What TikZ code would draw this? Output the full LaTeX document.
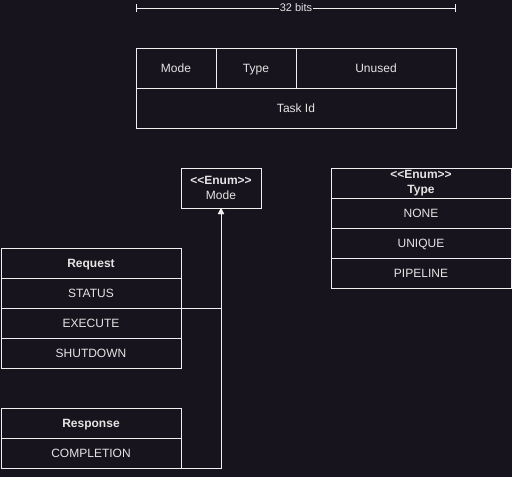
\documentclass[tikz,border=0pt]{standalone}
\usepackage{fontspec}
\setmainfont{Liberation Sans}[Ligatures=TeXOff]
\usepackage{tikz}
\usetikzlibrary{arrows.meta,positioning}

\definecolor{bgc}{HTML}{18141D}
\definecolor{linec}{HTML}{F0F0F0}
\definecolor{textc}{HTML}{E4E4E4}

\tikzset{
  box/.style={rectangle,draw=linec,fill=bgc,text=textc,inner sep=0pt,outer sep=0pt,
    minimum width=80pt,minimum height=40pt,align=center,font=\fontsize{12}{15}\selectfont},
  field/.style={box,text height=9pt,text depth=0.5pt},
  head/.style={field,minimum width=180pt,minimum height=30pt,font=\bfseries\fontsize{12}{14}\selectfont},
  item/.style={field,minimum width=180pt,minimum height=30pt},
  link/.style={draw=linec,-{Triangle[width=6pt,length=6pt]}}
}

\begin{document}
\begin{tikzpicture}[x=1pt,y=-1pt,node distance=0pt,line width=1pt]
\useasboundingbox[fill=bgc] (0,0) rectangle (512,477);

% width of the packet
\coordinate (bitl) at (136,8);
\coordinate (bitr) at (456,8);
\draw[linec,{Bar[width=8pt]}-{Bar[width=8pt]}] (bitl) -- (bitr);
\node (bits) [fill=bgc,text=textc,inner sep=1pt,text height=8pt,text depth=1pt,font=\fontsize{11}{13}\selectfont] at (296,8) {32 bits};

% packet layout
\node (mode) [field,anchor=north west] at (136,48) {Mode};
\node (type) [field,right=of mode] {Type};
\node (unused) [field,minimum width=160pt,right=of type] {Unused};
\node (taskid) [field,minimum width=320pt,below=of mode.south west,anchor=north west] {Task Id};

% enums
\node (menum) [box,anchor=north west] at (181,168) {\textbf{<<Enum>>}\\Mode};

\node (tenum) [box,minimum width=180pt,minimum height=30pt,anchor=north west,font=\bfseries\fontsize{12}{15}\selectfont] at (331,168) {<<Enum>>\\Type};
\node (none) [item,below=of tenum] {NONE};
\node (unique) [item,below=of none] {UNIQUE};
\node (pipeline) [item,below=of unique] {PIPELINE};

\node (req) [head,anchor=north west] at (1,248) {Request};
\node (status) [item,below=of req] {STATUS};
\node (execute) [item,below=of status] {EXECUTE};
\node (shutdown) [item,below=of execute] {SHUTDOWN};

\node (resp) [head,anchor=north west] at (1,408) {Response};
\node (completion) [item,below=of resp] {COMPLETION};

\draw[link] (status.south east) -| (menum.south);
\draw[link] (completion.south east) -| (menum.south);
\end{tikzpicture}
\end{document}
